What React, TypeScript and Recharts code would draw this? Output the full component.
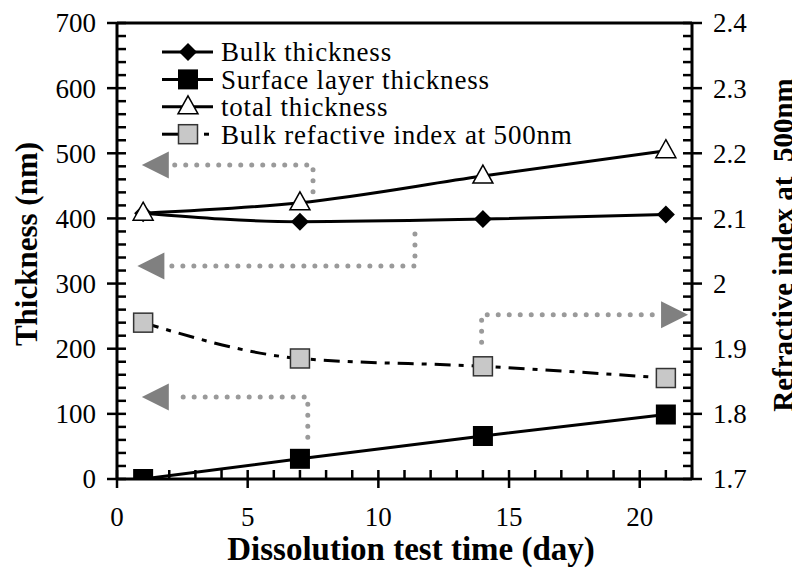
import { ComposedChart, Line, XAxis, YAxis, Legend, ReferenceDot, ReferenceLine } from 'recharts'

// measured values
const days = [1, 7, 14, 21]
const bulkThickness = [408, 395, 399, 406]
const surfaceThickness = [0, 31, 66, 99]
const totalThickness = [408, 424, 465, 504]
const bulkIndex = [1.94, 1.885, 1.873, 1.855]

// ticks (major labelled, minor unlabelled)
const xTicks = Array.from({ length: 23 }, (_, i) => i)
const leftTicks = Array.from({ length: 36 }, (_, i) => i * 20)
const rightTicks = Array.from({ length: 36 }, (_, i) => +(1.7 + i * 0.02).toFixed(2))

// dotted arrow annotations: path points [day, value] and arrow tip
const arrowPaths = [
  { axis: 'left', path: [[7.5, 441], [7.5, 482], [2.1, 482]], tip: [0.95, 482], dir: 'left' },
  { axis: 'left', path: [[11.4, 376], [11.4, 327], [1.95, 327]], tip: [0.78, 327], dir: 'left' },
  { axis: 'right', path: [[13.95, 1.91], [13.95, 1.952], [20.6, 1.952]], tip: [21.85, 1.952], dir: 'right' },
  { axis: 'left', path: [[7.3, 64], [7.3, 126], [2.35, 126]], tip: [0.95, 126], dir: 'left' },
]

const legendItems = [
  { label: 'Bulk thickness', marker: 'diamond' },
  { label: 'Surface layer thickness', marker: 'square' },
  { label: 'total thickness', marker: 'triangle' },
  { label: 'Bulk refactive index at 500nm', marker: 'graySquare' },
]

const data = days.map((d, i) => ({
  day: d,
  bulk: bulkThickness[i],
  surface: surfaceThickness[i],
  total: totalThickness[i],
  index: bulkIndex[i],
}))

const FONT = "'Liberation Serif', 'Times New Roman', serif"
const DOT_GRAY = '#9a9a9a'
const ARROW_GRAY = '#808080'

function Marker({ kind, cx, cy }: { kind: string; cx: number; cy: number }) {
  if (kind === 'diamond')
    return <polygon points={`${cx},${cy - 9} ${cx + 9},${cy} ${cx},${cy + 9} ${cx - 9},${cy}`} fill="#000" />
  if (kind === 'square') return <rect x={cx - 10} y={cy - 10} width={20} height={20} fill="#000" />
  if (kind === 'triangle')
    return (
      <polygon
        points={`${cx},${cy - 11} ${cx + 10},${cy + 7} ${cx - 10},${cy + 7}`}
        fill="#fff"
        stroke="#000"
        strokeWidth={1.5}
      />
    )
  return <rect x={cx - 9.5} y={cy - 9.5} width={19} height={19} fill="#c8c8c8" stroke="#333" strokeWidth={1.5} />
}

const dotFor = (kind: string) => (p: any) => <Marker key={`${kind}-${p.index}`} kind={kind} cx={p.cx} cy={p.cy} />

const LeftTick = (p: any) => {
  const v = p.payload.value
  const major = v % 100 === 0
  return (
    <g>
      <line x1={major ? p.x - 10 : p.x} x2={p.x + 9} y1={p.y} y2={p.y} stroke="#000" strokeWidth={2.5} />
      {major && (
        <text x={p.x - 21} y={p.y} dy="0.35em" textAnchor="end" fontFamily={FONT} fontSize={27} fill="#000">
          {v}
        </text>
      )}
    </g>
  )
}

const RightTick = (p: any) => {
  const v = p.payload.value
  const major = Math.round(v * 100) % 10 === 0
  return (
    <g>
      <line x1={p.x - 9} x2={major ? p.x + 10 : p.x} y1={p.y} y2={p.y} stroke="#000" strokeWidth={2.5} />
      {major && (
        <text x={p.x + 21} y={p.y} dy="0.35em" textAnchor="start" fontFamily={FONT} fontSize={27} fill="#000">
          {String(v)}
        </text>
      )}
    </g>
  )
}

const BottomTick = (p: any) => {
  const v = p.payload.value
  const major = v % 5 === 0
  return (
    <g>
      <line x1={p.x} x2={p.x} y1={p.y - 9} y2={major ? p.y + 9 : p.y} stroke="#000" strokeWidth={2.5} />
      {major && (
        <text x={p.x} y={p.y + 38} dy="0.35em" textAnchor="middle" fontFamily={FONT} fontSize={27} fill="#000">
          {v}
        </text>
      )}
    </g>
  )
}

const ArrowHead = (dir: string) => (p: any) => {
  const { cx, cy } = p
  const b = dir === 'left' ? cx + 27 : cx - 27
  return <polygon points={`${cx},${cy} ${b},${cy - 13.5} ${b},${cy + 13.5}`} fill={ARROW_GRAY} />
}

function ChartLegend() {
  return (
    <svg width={440} height={124}>
      {legendItems.map((it, i) => {
        const cy = 20 + i * 27.4
        return (
          <g key={it.label}>
            {it.marker === 'graySquare' ? (
              <>
                <line x1={0} x2={18} y1={cy} y2={cy} stroke="#000" strokeWidth={3} />
                <line x1={42} x2={47} y1={cy} y2={cy} stroke="#000" strokeWidth={3} />
              </>
            ) : (
              <line x1={0} x2={51} y1={cy} y2={cy} stroke="#000" strokeWidth={3} />
            )}
            <Marker kind={it.marker} cx={26} cy={cy} />
            <text x={59} y={cy} dy="0.35em" fontFamily={FONT} fontSize={27} letterSpacing={0.8} fill="#000">
              {it.label}
            </text>
          </g>
        )
      })}
    </svg>
  )
}

export default function App() {
  return (
    <ComposedChart width={792} height={563} data={data} margin={{ top: 15, right: 0, bottom: 0, left: 0 }}>
      <XAxis
        dataKey="day"
        type="number"
        domain={[0, 22]}
        ticks={xTicks}
        interval={0}
        height={92}
        tickSize={0}
        tickMargin={0}
        tick={BottomTick}
        axisLine={{ stroke: '#000', strokeWidth: 3 }}
        allowDataOverflow
      />
      <YAxis
        yAxisId="left"
        domain={[0, 700]}
        ticks={leftTicks}
        interval={0}
        width={109}
        tickSize={0}
        tickMargin={0}
        tick={LeftTick}
        axisLine={{ stroke: '#000', strokeWidth: 3 }}
        allowDataOverflow
      />
      <YAxis
        yAxisId="right"
        orientation="right"
        domain={[1.7, 2.4]}
        ticks={rightTicks}
        interval={0}
        width={108}
        tickSize={0}
        tickMargin={0}
        tick={RightTick}
        axisLine={{ stroke: '#000', strokeWidth: 3 }}
        allowDataOverflow
      />
      <ReferenceLine yAxisId="left" y={700} stroke="#000" strokeWidth={3} />

      {arrowPaths.map((a, i) => (
        <Line
          key={`arrow-${i}`}
          yAxisId={a.axis}
          data={a.path.map(([d, v]) => ({ day: d, v }))}
          dataKey="v"
          type="linear"
          stroke={DOT_GRAY}
          strokeWidth={5}
          strokeDasharray="0 11"
          strokeLinecap="round"
          dot={false}
          activeDot={false}
          legendType="none"
          isAnimationActive={false}
        />
      ))}
      {arrowPaths.map((a, i) => (
        <ReferenceDot
          key={`tip-${i}`}
          yAxisId={a.axis}
          x={a.tip[0]}
          y={a.tip[1]}
          shape={ArrowHead(a.dir)}
        />
      ))}

      <Line yAxisId="left" dataKey="bulk" type="monotone" stroke="#000" strokeWidth={3} dot={dotFor('diamond')} isAnimationActive={false} />
      <Line yAxisId="left" dataKey="surface" type="monotone" stroke="#000" strokeWidth={3} dot={dotFor('square')} isAnimationActive={false} />
      <Line yAxisId="left" dataKey="total" type="monotone" stroke="#000" strokeWidth={3} dot={dotFor('triangle')} isAnimationActive={false} />
      <Line
        yAxisId="right"
        dataKey="index"
        type="monotone"
        stroke="#000"
        strokeWidth={3}
        strokeDasharray="16 8 5 8"
        dot={dotFor('graySquare')}
        isAnimationActive={false}
      />

      <Legend
        layout="vertical"
        align="center"
        verticalAlign="middle"
        wrapperStyle={{ top: 24, left: 154, width: 440, height: 124 }}
        content={() => <ChartLegend />}
      />

      <text
        x={29}
        y={236}
        transform="rotate(-90 29 236)"
        textAnchor="middle"
        fontFamily={FONT}
        fontWeight="bold"
        fontSize={31}
        fill="#000"
      >
        Thickness (nm)
      </text>
      <text
        x={403}
        y={552}
        textAnchor="middle"
        fontFamily={FONT}
        fontWeight="bold"
        fontSize={33}
        fill="#000"
      >
        Dissolution test time (day)
      </text>
      <text
        x={785}
        y={237}
        transform="rotate(-90 785 237)"
        textAnchor="middle"
        fontFamily={FONT}
        fontWeight="bold"
        fontSize={29}
        fill="#000"
        style={{ whiteSpace: 'pre' }}
      >
        Refractive index at  500nm
      </text>
    </ComposedChart>
  )
}
